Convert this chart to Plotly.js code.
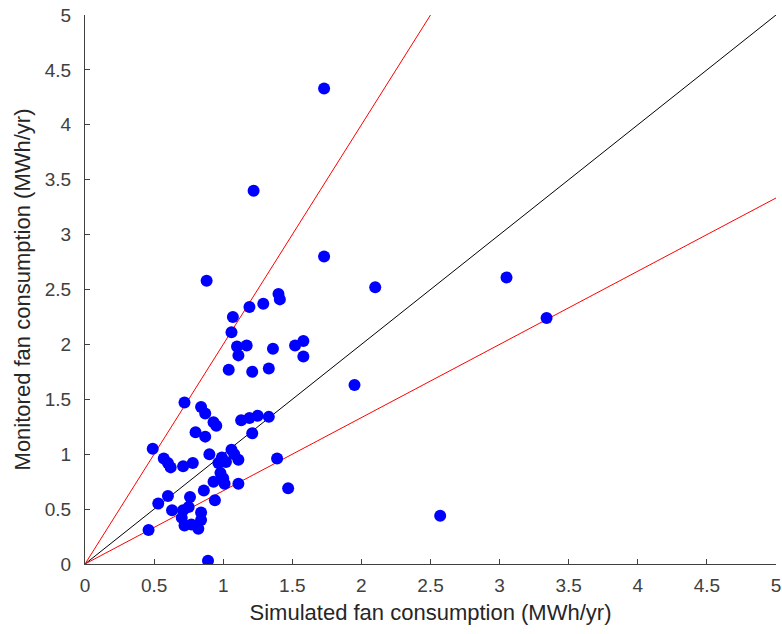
<!DOCTYPE html>
<html>
<head>
<meta charset="utf-8">
<script src="https://cdn.plot.ly/plotly-3.0.1.min.js"></script>
<style>html,body{margin:0;padding:0;background:#fff;}#chart{width:782px;height:634px;}</style>
</head>
<body>
<div id="chart"></div>
<script>
// Simulated (x) vs monitored (y) fan consumption, MWh/yr
const simulated = [1.73,1.22,0.88,1.73,2.10,3.05,3.34,1.95,2.57,1.47,1.39,0.89,
  1.40,1.41,1.29,1.19,1.07,1.06,1.10,1.17,1.11,1.36,1.52,1.58,1.58,1.04,1.21,1.33,
  0.72,0.84,0.87,0.93,0.95,0.80,0.87,0.49,0.57,0.60,0.62,0.71,0.78,0.90,0.965,0.99,
  1.06,1.08,1.11,0.98,1.00,0.93,1.01,1.11,1.13,1.19,1.25,1.33,1.21,0.86,0.94,0.53,
  0.60,0.63,0.76,0.71,0.70,0.72,0.77,0.82,0.84,0.84,0.46,0.75,1.02];
const monitored = [4.33,3.40,2.58,2.80,2.52,2.61,2.24,1.63,0.44,0.69,0.96,0.03,
  2.46,2.41,2.37,2.34,2.25,2.11,1.98,1.99,1.90,1.96,1.99,2.03,1.89,1.77,1.75,1.78,
  1.47,1.43,1.37,1.29,1.26,1.20,1.16,1.05,0.96,0.92,0.88,0.89,0.92,1.00,0.92,0.97,
  1.04,1.00,0.95,0.83,0.78,0.75,0.73,0.73,1.31,1.33,1.35,1.34,1.19,0.67,0.58,0.55,
  0.62,0.49,0.61,0.49,0.42,0.35,0.36,0.32,0.40,0.47,0.31,0.52,0.93];
// Reference lines
const parityX = [0, 5], parityY = [0, 5];
const upperX = [0, 2.5], upperY = [0, 5];
const lowerX = [0, 5], lowerY = [0, 5/1.5];
const tickVals = [0,0.5,1,1.5,2,2.5,3,3.5,4,4.5,5];
const tickText = ['0','0.5','1','1.5','2','2.5','3','3.5','4','4.5','5'];

const FONT = 'Liberation Sans, Arial, sans-serif';
const traces = [
  {x: parityX, y: parityY, mode: 'lines', line: {color: '#000', width: 1}, hoverinfo: 'skip'},
  {x: upperX, y: upperY, mode: 'lines', line: {color: '#ff0000', width: 1}, hoverinfo: 'skip'},
  {x: lowerX, y: lowerY, mode: 'lines', line: {color: '#ff0000', width: 1}, hoverinfo: 'skip'},
  {x: simulated, y: monitored, mode: 'markers', marker: {color: '#0000ff', size: 12}}
];
const axisCommon = {
  range: [0, 5], tickvals: tickVals, ticktext: tickText, ticks: 'inside', ticklen: 5,
  tickcolor: '#404040', showline: true, linecolor: '#404040', linewidth: 1,
  showgrid: false, zeroline: false, tickfont: {family: FONT, size: 19, color: '#404040'}
};
const layout = {
  width: 782, height: 634, showlegend: false,
  paper_bgcolor: '#fff', plot_bgcolor: '#fff',
  margin: {l: 85, r: 6, t: 15, b: 70},
  xaxis: Object.assign({}, axisCommon, {
    ticklabelstandoff: 4,
    title: {text: 'Simulated fan consumption (MWh/yr)', standoff: 9,
      font: {family: FONT, size: 22, color: '#262626'}}
  }),
  yaxis: Object.assign({}, axisCommon, {
    ticklabelstandoff: 9,
    title: {text: 'Monitored fan consumption (MWh/yr)', standoff: 8,
      font: {family: FONT, size: 22, color: '#262626'}}
  })
};
Plotly.newPlot('chart', traces, layout, {displayModeBar: false, staticPlot: true});
</script>
</body>
</html>
